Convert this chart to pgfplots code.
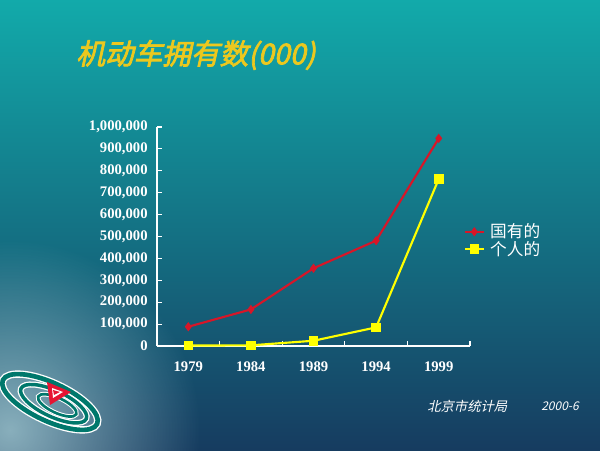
\documentclass[border=0pt]{standalone}
\usepackage{fontspec}
\usepackage{pgfplots}
\pgfplotsset{compat=1.18}
\usetikzlibrary{fadings}
\setmainfont{Liberation Serif}
\newfontfamily\cjk{Noto Sans CJK SC}
\newfontfamily\cjkit[FakeSlant=0.22]{Noto Sans CJK SC}
\newfontfamily\titlefont[FakeSlant=0.22,FakeBold=2.5]{Noto Sans CJK SC}
\definecolor{bgtop}{RGB}{18,170,170}
\definecolor{bgmid}{RGB}{16,88,118}
\definecolor{bgbot}{RGB}{22,60,96}
\definecolor{glow}{RGB}{175,212,218}
\definecolor{titlecol}{RGB}{236,200,30}
\definecolor{redline}{RGB}{215,22,40}
\definecolor{yelline}{RGB}{255,255,0}
\definecolor{logoteal}{RGB}{0,120,108}
\definecolor{logored}{RGB}{230,20,50}
\tikzfading[name=myfade, inner color=transparent!0, outer color=transparent!100]
\begin{document}
\begin{tikzpicture}[x=0.75pt,y=0.75pt]
\path[use as bounding box] (0,0) rectangle (600,450);
\shade[top color=bgtop, middle color=bgmid, bottom color=bgbot] (0,0) rectangle (600,450);
\begin{scope}
\clip (0,0) rectangle (600,450);
\fill[glow, opacity=0.75, path fading=myfade] (10,20) circle (190);
\end{scope}
% logo
\begin{scope}[shift={(50,48)}, rotate=-25]
\draw[white, line width=5.5] (0,0) ellipse (52 and 19);
\draw[logoteal, line width=3.5] (0,0) ellipse (52 and 19);
\draw[white, line width=4.5] (4,0) ellipse (36 and 13);
\draw[logoteal, line width=2.6] (4,0) ellipse (36 and 13);
\draw[white, line width=3.5] (8,0) ellipse (21 and 7.5);
\draw[logoteal, line width=2] (8,0) ellipse (21 and 7.5);
\end{scope}
\fill[logored] (47,68) -- (71,58) -- (50,45) -- cycle;
\fill[white] (52,62) -- (63,58) -- (53,52) -- cycle;
\fill[logored] (53,60) -- (60,58) -- (54,55) -- cycle;
% title
\node[anchor=west, text=titlecol, inner sep=0pt] at (76,395) {\titlefont\fontsize{21.5}{24}\selectfont 机动车拥有数(000)};
% footer
\node[anchor=west, text=white, inner sep=0pt] at (427,44) {\cjkit\fontsize{10}{12}\selectfont 北京市统计局};
\node[anchor=west, text=white, inner sep=0pt] at (541,44) {\cjkit\fontsize{9}{11}\selectfont 2000-6};
\begin{axis}[
  at={(117.75pt,78pt)}, anchor=south west,
  scale only axis, width=234.75pt, height=164.25pt,
  xmin=-0.5, xmax=4.5, ymin=0, ymax=1000000,
  axis x line*=bottom, axis y line*=left,
  axis line style={white, line width=0.8pt, -},
  tick align=inside,
  xtick={0,1,2,3,4}, xticklabels={1979,1984,1989,1994,1999},
  minor xtick={0.5,1.5,2.5,3.5,4.5},
  major x tick style={draw=none},
  minor x tick style={draw=white, line width=0.8pt},
  minor tick length=3.5pt,
  ytick={0,100000,...,1000000},
  y tick style={draw=white, line width=0.8pt},
  major tick length=3.5pt,
  scaled y ticks=false,
  yticklabel style={/pgf/number format/fixed, /pgf/number format/1000 sep={,}, xshift=-3.5pt},
  xticklabel style={yshift=-8pt},
  ticklabel style={font=\bfseries\fontsize{11}{13}\selectfont, text=white},
  /pgf/number format/assume math mode=true,
  clip=false,
  legend style={draw=none, fill=none, at={(0.975,0.482)}, anchor=west,
    text=white, font=\cjk\fontsize{12.5}{14}\selectfont, row sep=-3pt,
    inner sep=1pt, nodes={inner xsep=4pt}},
  legend cell align=left,
  legend image code/.code={\draw[mark repeat=2,mark phase=2,#1] plot coordinates {(0cm,0cm) (0.25cm,0cm) (0.5cm,0cm)};},
]
\addplot[redline, line width=1.6pt, mark=diamond*, mark size=2.2pt, mark options={fill=redline, draw=redline}]
  coordinates {(0,88000) (1,167000) (2,355000) (3,481000) (4,948000)};
\addlegendentry{国有的}
\addplot[yelline, line width=1.6pt, mark=square*, mark size=2.8pt, mark options={fill=yelline, draw=yelline}]
  coordinates {(0,2000) (1,3000) (2,24000) (3,85000) (4,762000)};
\addlegendentry{个人的}
\end{axis}
\end{tikzpicture}
\end{document}
